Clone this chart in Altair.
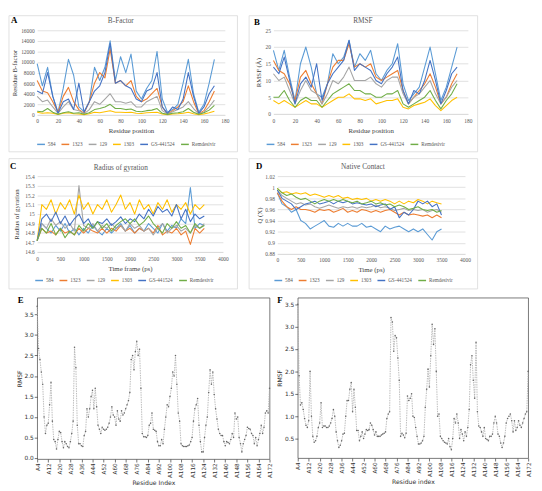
import altair as alt
import pandas as pd

SERIES = ["584", "1323", "129", "1303", "GS-441524", "Remdesivir"]
COLORS = ["#5B9BD5", "#ED7D31", "#A5A5A5", "#FFC000", "#4472C4", "#70AD47"]

# ---- Panel A : B-factor (residue 0..170 step 5)
RES_AB = list(range(0, 171, 5))
A_584 = [9700, 5500, 9000, 3500, 500, 5000, 10500, 7500, 1500, 600,
         2500, 9000, 6500, 9000, 14000, 6500, 11000, 8000, 11500, 4500,
         3000, 5000, 6500, 12000, 3000, 500, 1000, 2000, 6000, 10500,
         4000, 500, 2000, 6000, 10500]
A_1323 = [6500, 4500, 4200, 2500, 500, 3500, 5200, 2500, 1000, 300,
          2500, 6000, 8000, 7000, 12500, 6000, 6500, 5500, 6500, 3500,
          2500, 3000, 4000, 5000, 1500, 200, 800, 1500, 2500, 5500,
          2500, 200, 800, 2500, 4500]
A_129 = [3500, 2500, 2800, 1500, 300, 1500, 2500, 1000, 800, 200,
         1000, 2500, 2000, 3000, 4000, 2500, 2500, 2200, 2500, 1500,
         1500, 2500, 3000, 3500, 800, 200, 600, 1000, 1500, 2500,
         1200, 200, 500, 1500, 2800]
A_1303 = [500, 300, 400, 300, 100, 300, 400, 200, 150, 50,
          200, 500, 400, 600, 800, 500, 500, 450, 500, 300,
          250, 400, 450, 500, 150, 50, 150, 200, 300, 500,
          200, 50, 150, 400, 700]
A_GS = [4500, 4000, 8000, 3500, 300, 2500, 3000, 1000, 6000, 500,
        2500, 4500, 5500, 8000, 13500, 6000, 6500, 5500, 5000, 3000,
        2500, 4500, 5000, 8000, 1500, 300, 1500, 1000, 3000, 8000,
        3500, 300, 1500, 4000, 5500]
A_REM = [700, 600, 1200, 500, 100, 400, 600, 300, 400, 100,
         400, 1000, 1200, 1500, 2000, 1200, 1200, 1000, 1100, 700,
         600, 800, 900, 1200, 300, 100, 300, 400, 600, 1200,
         500, 100, 400, 900, 1800]

# ---- Panel B : RMSF (Å)
B_584 = [19, 13, 19, 11, 4, 15, 20, 14, 6, 5,
         9, 18, 15, 17, 22, 14, 18, 16, 19, 12,
         10, 13, 15, 21, 9, 4, 6, 8, 14, 20,
         12, 4, 8, 14, 20]
B_1323 = [16, 13, 12, 9, 4, 11, 13, 9, 6, 3,
          9, 14, 16, 16, 21, 14, 15, 14, 15, 11,
          10, 11, 12, 13, 7, 3, 5, 7, 9, 12,
          8, 3, 5, 9, 12]
B_129 = [12, 10, 11, 7, 3, 7, 10, 7, 6, 3,
         6, 10, 9, 11, 14, 10, 10, 10, 11, 9,
         8, 10, 11, 11, 6, 3, 5, 6, 8, 10,
         6, 3, 5, 8, 10]
B_1303 = [4, 3, 4, 3, 2, 3, 4, 3, 3, 2,
          3, 4, 5, 5, 6, 4.5, 4.5, 4, 4.5, 3,
          3.5, 4, 4, 4.5, 2, 1.5, 2.5, 3, 3.5, 4.5,
          2.5, 1, 2.5, 4, 5]
B_GS = [14, 12, 17, 10, 3, 9, 11, 8, 15, 4,
        9, 12, 14, 16, 22, 13, 15, 14, 13, 10,
        9, 12, 14, 17, 7, 3, 7, 6, 10, 16,
        10, 3, 7, 12, 14]
B_REM = [5, 5, 7, 4, 2, 4, 5, 4, 4, 2,
         4, 6, 7, 8, 9, 7, 7, 6, 6, 5,
         5, 6, 6, 7, 3, 2, 3, 4, 5, 7,
         4, 1.5, 4, 6, 9]

# ---- Panel C : Radius of gyration (0..3600 ps step 100)
TIME_C = list(range(0, 3601, 100))
C_584 = [14.72, 14.9, 14.85, 14.8, 14.88, 14.82, 14.9, 14.8, 14.85, 14.78,
         14.85, 14.8, 14.88, 14.82, 14.78, 14.85, 14.8, 14.85, 14.9, 14.82,
         14.88, 14.8, 14.85, 14.82, 14.9, 14.85, 14.8, 14.9, 14.82, 14.88,
         14.85, 14.95, 14.9, 15.28, 14.85, 14.9, 14.88]
C_1323 = [14.72, 14.85, 14.8, 14.82, 14.78, 14.85, 14.8, 14.82, 14.78, 14.85,
          14.8, 14.85, 14.82, 14.8, 14.85, 14.8, 14.85, 14.82, 14.88, 14.82,
          14.85, 14.8, 14.85, 14.82, 14.85, 14.8, 14.88, 14.78, 14.82, 14.8,
          14.85, 14.78, 14.82, 14.68, 14.85, 14.8, 14.85]
C_129 = [14.72, 14.9, 14.85, 14.95, 14.88, 14.92, 14.85, 14.9, 14.82, 15.3,
         14.88, 14.85, 14.9, 14.82, 14.88, 14.85, 14.9, 14.85, 14.88, 14.82,
         14.9, 14.85, 14.88, 14.82, 14.85, 14.78, 14.85, 14.9, 14.8, 14.85,
         14.88, 14.82, 14.85, 14.8, 14.88, 14.85, 14.9]
C_1303 = [14.72, 15.1, 15.05, 15.15, 15.0, 15.12, 15.05, 15.15, 15.0, 15.2,
          15.05, 15.12, 15.0, 15.1, 15.05, 15.15, 15.02, 15.1, 15.2, 15.05,
          15.12, 15.0, 15.15, 15.05, 15.1, 15.0, 15.12, 15.05, 15.15, 15.02,
          15.1, 15.05, 15.12, 15.0, 15.1, 15.05, 15.1]
C_GS = [14.72, 14.95, 15.0, 14.92, 15.02, 14.9, 14.98, 14.88, 14.95, 15.0,
        14.9, 14.95, 14.85, 14.92, 14.9, 14.95, 14.88, 14.92, 14.97, 14.9,
        14.95, 14.92, 15.0, 14.95, 15.05, 14.98, 15.08, 15.02, 15.05, 14.98,
        15.1, 14.95, 15.05, 14.92, 15.0, 14.95, 14.98]
C_REM = [14.72, 14.85, 14.8, 14.9, 14.78, 14.85, 14.75, 14.82, 14.78, 14.88,
         14.82, 14.9, 14.85, 14.92, 14.85, 14.9, 14.82, 14.88, 14.92, 14.95,
         14.9, 14.95, 14.88, 14.92, 14.98, 14.9, 14.85, 14.8, 14.9, 14.85,
         14.92, 14.85, 14.88, 14.8, 14.9, 14.85, 14.88]

# ---- Panel D : Native contact (0..3500 ps step 100)
TIME_D = list(range(0, 3501, 100))
D_584 = [0.99, 0.97, 0.965, 0.955, 0.96, 0.94, 0.935, 0.925, 0.93, 0.935,
         0.94, 0.93, 0.928, 0.935, 0.93, 0.935, 0.93, 0.93, 0.935, 0.928,
         0.93, 0.925, 0.92, 0.93, 0.925, 0.928, 0.93, 0.925, 0.92, 0.925,
         0.92, 0.925, 0.915, 0.905, 0.92, 0.925]
D_1323 = [0.99, 0.975, 0.965, 0.96, 0.965, 0.96, 0.96, 0.958, 0.955, 0.96,
          0.958, 0.96, 0.955, 0.958, 0.962, 0.955, 0.958, 0.955, 0.96, 0.958,
          0.955, 0.958, 0.955, 0.958, 0.96, 0.955, 0.95, 0.955, 0.95, 0.952,
          0.95, 0.948, 0.95, 0.945, 0.95, 0.945]
D_129 = [0.995, 0.985, 0.98, 0.975, 0.97, 0.972, 0.968, 0.97, 0.965, 0.962,
         0.965, 0.968, 0.965, 0.962, 0.965, 0.963, 0.965, 0.962, 0.965, 0.963,
         0.965, 0.968, 0.963, 0.965, 0.962, 0.958, 0.96, 0.962, 0.958, 0.96,
         0.958, 0.96, 0.955, 0.958, 0.96, 0.955]
D_1303 = [0.998, 0.99, 0.992, 0.988, 0.99, 0.988, 0.99, 0.985, 0.988, 0.985,
          0.982, 0.985, 0.982, 0.985, 0.98, 0.982, 0.978, 0.98, 0.978, 0.98,
          0.975, 0.978, 0.975, 0.978, 0.975, 0.97, 0.975, 0.97, 0.975, 0.972,
          0.978, 0.975, 0.97, 0.975, 0.972, 0.97]
D_GS = [0.995, 0.98, 0.975, 0.97, 0.96, 0.965, 0.97, 0.972, 0.975, 0.97,
        0.972, 0.975, 0.97, 0.975, 0.972, 0.975, 0.97, 0.972, 0.97, 0.968,
        0.97, 0.965, 0.968, 0.97, 0.96, 0.965, 0.945, 0.955, 0.95, 0.96,
        0.975, 0.97, 0.975, 0.965, 0.97, 0.95]
D_REM = [0.998, 0.99, 0.985, 0.988, 0.982, 0.978, 0.98, 0.975, 0.97, 0.975,
         0.978, 0.975, 0.978, 0.975, 0.978, 0.975, 0.972, 0.975, 0.97, 0.972,
         0.975, 0.97, 0.972, 0.968, 0.97, 0.965, 0.968, 0.965, 0.96, 0.962,
         0.965, 0.96, 0.958, 0.96, 0.955, 0.958]

# ---- Panels E / F : per-residue RMSF (A4..A172)
RES_EF = list(range(4, 173))
E_RMSF = [3.70, 2.67, 2.40, 2.10, 1.80, 1.00, 0.60, 0.80, 0.85, 1.30,
          1.85, 0.90, 0.45, 0.40, 0.22, 0.45, 0.65, 0.62, 0.40, 0.25,
          0.40, 0.35, 0.28, 0.25, 0.40, 0.60, 0.90, 2.70, 2.20, 0.80,
          0.35, 0.35, 0.30, 0.28, 0.55, 0.65, 1.20, 1.00, 1.20, 1.50,
          1.65, 1.20, 1.70, 1.25, 0.80, 0.70, 0.60, 0.75, 0.70, 0.68,
          0.70, 0.75, 0.85, 1.00, 1.25, 1.05, 1.00, 0.80, 1.15, 0.95,
          0.90, 1.15, 1.05, 1.10, 1.20, 1.30, 1.40, 1.60, 2.40, 2.50,
          2.15, 2.60, 2.85, 2.50, 2.65, 1.70, 0.60, 0.52, 0.52, 0.50,
          0.55, 0.80, 0.85, 1.10, 0.70, 0.68, 0.65, 0.40, 0.30, 0.30,
          0.45, 0.35, 0.70, 1.00, 1.30, 1.25, 1.50, 1.70, 2.10, 2.00,
          2.50, 1.80, 1.10, 0.90, 0.35, 0.30, 0.28, 0.28, 0.28, 0.30,
          0.32, 0.40, 0.50, 0.90, 1.20, 1.30, 1.45, 0.80, 0.40, 0.15,
          0.15, 0.50, 0.80, 1.00, 1.60, 2.15, 1.80, 2.10, 1.55, 1.20,
          0.95, 0.70, 0.60, 0.55, 0.55, 0.40, 0.30, 0.40, 0.38, 0.35,
          0.45, 0.60, 0.50, 1.10, 0.95, 1.00, 0.50, 0.35, 0.15, 0.35,
          0.45, 0.55, 0.75, 0.72, 0.70, 0.60, 0.55, 0.35, 0.50, 0.30,
          0.45, 0.60, 0.80, 0.60, 0.75, 1.10, 1.15, 1.10, 1.70]
F_RMSF = [3.50, 1.90, 1.25, 1.30, 1.15, 0.95, 0.80, 0.75, 0.90, 2.00,
          1.00, 0.55, 0.42, 0.45, 0.55, 0.75, 0.85, 1.30, 0.75, 0.78,
          0.78, 0.75, 0.75, 0.78, 0.85, 0.95, 1.15, 1.00, 0.65, 0.45,
          0.30, 0.35, 0.45, 0.60, 0.62, 1.00, 1.35, 1.35, 1.60, 1.75,
          1.10, 1.60, 1.20, 0.68, 0.68, 0.45, 0.55, 0.65, 0.50, 0.60,
          0.70, 0.68, 0.70, 0.85, 0.80, 0.70, 0.58, 0.65, 0.55, 0.55,
          0.55, 0.58, 0.60, 0.62, 0.65, 0.95, 1.05, 1.10, 3.20, 3.10,
          2.45, 2.80, 2.75, 2.30, 1.80, 0.55, 0.62, 0.58, 0.52, 0.62,
          1.45, 1.35, 1.40, 1.50, 1.00, 0.97, 0.75, 0.55, 0.38, 0.38,
          0.40, 0.45, 0.55, 1.20, 1.60, 2.05, 1.65, 2.35, 3.05, 2.60,
          2.95, 2.00, 1.00, 1.05, 0.55, 0.50, 0.45, 0.42, 0.40, 0.38,
          0.50, 0.32, 0.25, 0.50, 0.95, 0.85, 1.05, 0.85, 0.50, 0.70,
          0.60, 0.45, 0.65, 0.55, 0.75, 1.15, 2.15, 2.35, 1.80, 1.40,
          2.65, 1.10, 0.78, 0.75, 0.65, 0.55, 0.75, 0.50, 0.48, 0.45,
          0.55, 0.55, 0.60, 0.85, 1.00, 0.85, 0.60, 0.55, 0.40, 0.30,
          0.40, 0.55, 0.85, 0.95, 1.00, 1.05, 0.90, 0.65, 0.90, 0.68,
          0.75, 0.90, 0.80, 0.75, 0.85, 0.95, 1.05, 1.10, 2.00]

SERIF = "Liberation Serif"
SANS = "DejaVu Sans"
ONE = pd.DataFrame({"k": [0]})


def long_df(xs, lists):
    rows = []
    for name, vals in zip(SERIES, lists):
        assert len(vals) == len(xs), (name, len(vals), len(xs))
        for x, v in zip(xs, vals):
            rows.append({"x": x, "v": v, "s": name})
    return pd.DataFrame(rows)


def txt(text, x, y, size, color, weight="normal", align="left", baseline="top", font=SERIF):
    return alt.Chart(ONE).mark_text(
        text=text, font=font, fontSize=size, fontWeight=weight, color=color,
        align=align, baseline=baseline
    ).encode(x=alt.value(x), y=alt.value(y))


def excel_panel(df, w, h, frame, letter, letter_xy, title, title_xy,
                xdom, xvals, xtitle, xlpad, xtpad,
                ydom, yvals, yfmt, ytitle, ytpad, legend_xy):
    fx1, fy1, fx2, fy2 = frame
    box = alt.Chart(ONE).mark_rect(
        fill="transparent", stroke="#D9D9D9", strokeWidth=0.8
    ).encode(x=alt.value(fx1), x2=alt.value(fx2), y=alt.value(fy1), y2=alt.value(fy2))
    lines = alt.Chart(df).mark_line(strokeWidth=1.1, strokeJoin="round").encode(
        x=alt.X("x:Q", scale=alt.Scale(domain=xdom, nice=False, zero=False),
                axis=alt.Axis(values=xvals, format="d", grid=False, ticks=False,
                              domain=True, domainColor="#D9D9D9", domainWidth=0.8,
                              labelFont=SERIF, labelFontSize=5.6, labelColor="#595959",
                              labelPadding=xlpad, labelFlush=False, labelOverlap=False,
                              title=xtitle, titleFont=SERIF, titleFontSize=7,
                              titleFontWeight="normal", titleColor="#404040",
                              titlePadding=xtpad)),
        y=alt.Y("v:Q", scale=alt.Scale(domain=ydom, nice=False, zero=False),
                axis=alt.Axis(values=yvals, format=yfmt, grid=True, gridColor="#D9D9D9",
                              gridWidth=0.8, ticks=False, domain=False,
                              labelFont=SERIF, labelFontSize=5.6, labelColor="#595959",
                              labelPadding=3, labelFlush=False, labelOverlap=False,
                              title=ytitle, titleFont=SERIF, titleFontSize=7,
                              titleFontWeight="normal", titleColor="#404040",
                              titlePadding=ytpad)),
        color=alt.Color("s:N", scale=alt.Scale(domain=SERIES, range=COLORS),
                        legend=alt.Legend(orient="none", legendX=legend_xy[0],
                                          legendY=legend_xy[1], direction="horizontal",
                                          columns=6, symbolType="stroke", symbolSize=64,
                                          symbolStrokeWidth=1.5, labelFont=SERIF,
                                          labelFontSize=5.3, labelColor="#595959",
                                          labelOffset=2, columnPadding=3, padding=0,
                                          title=None)),
    )
    let = txt(letter, letter_xy[0], letter_xy[1], 9, "black", weight="bold")
    ttl = txt(title, title_xy[0], title_xy[1], 7.5, "#595959", align="center", baseline="middle")
    return alt.layer(box, lines, let, ttl).properties(width=w, height=h)


def md_panel(vals, w, h, ydom, yvals, letter, box_rect, letter_xy, xtitle):
    df = pd.DataFrame({"r": RES_EF, "v": vals})
    fx1, fy1, fx2, fy2 = box_rect
    box = alt.Chart(ONE).mark_rect(fill="transparent").encode(
        x=alt.value(fx1), x2=alt.value(fx2), y=alt.value(fy1), y2=alt.value(fy2))
    base = alt.Chart(df).encode(
        x=alt.X("r:Q", scale=alt.Scale(domain=[4, 172], nice=False, zero=False),
                axis=alt.Axis(values=list(range(4, 173, 8)), labelExpr="'A' + datum.value",
                              labelAngle=270, labelFont=SANS, labelFontSize=5.8,
                              labelColor="#333333", tickColor="#333333", tickSize=3,
                              tickWidth=0.7, labelPadding=1, domain=False, grid=False,
                              labelFlush=False, labelOverlap=False,
                              title=xtitle, titleFont=SANS, titleFontSize=6.3,
                              titleFontWeight="normal", titleColor="#333333", titlePadding=2)),
        y=alt.Y("v:Q", scale=alt.Scale(domain=ydom, nice=False, zero=False),
                axis=alt.Axis(values=yvals, format=".1f", labelFont=SANS, labelFontSize=6,
                              labelColor="#333333", tickColor="#333333", tickSize=3,
                              tickWidth=0.7, labelPadding=1, domain=False, grid=False,
                              labelFlush=False, labelOverlap=False,
                              title="RMSF", titleFont=SANS, titleFontSize=6.3,
                              titleFontWeight="normal", titleColor="#333333", titlePadding=2)),
    )
    line = base.mark_line(color="#aaaaaa", strokeWidth=0.8, strokeDash=[1.5, 1])
    pts = base.mark_circle(size=2.5, color="#666666", opacity=1)
    let = txt(letter, letter_xy[0], letter_xy[1], 9, "black", weight="bold")
    return alt.layer(box, line, pts, let).properties(
        width=w, height=h, view=alt.ViewBackground(stroke="#555555", strokeWidth=0.8))


pA = excel_panel(long_df(RES_AB, [A_584, A_1323, A_129, A_1303, A_GS, A_REM]),
                 193, 87, (-29, -15, 206, 125), "A", (-27, -14), "B-Factor", (86, -10),
                 [0, 180], list(range(0, 181, 20)), "Residue position", 4, 3,
                 [0, 16000], list(range(0, 16001, 2000)), "d", "Residue B-factor", 3.5,
                 (-1, 112))
pB = excel_panel(long_df(RES_AB, [B_584, B_1323, B_129, B_1303, B_GS, B_REM]),
                 200, 86, (-25, -15, 210, 125), "B", (-20, -12), "RMSF", (92, -10),
                 [0, 180], list(range(0, 181, 20)), "Residue position", 5, 3,
                 [0, 25], list(range(0, 26, 5)), "d", "RMSF (Å)", 4,
                 (-8, 112))
pC = excel_panel(long_df(TIME_C, [C_584, C_1323, C_129, C_1303, C_GS, C_REM]),
                 191, 78, (-29, -18, 206, 116), "C", (-28, -14), "Radius of gyration", (86, -8),
                 [0, 4000], list(range(0, 4001, 500)), "Time frame (ps)", 5, 2,
                 [14.6, 15.4], [14.6, 14.7, 14.8, 14.9, 15.0, 15.1, 15.2, 15.3, 15.4],
                 ".1~f", "Radius of gyration", 5, (-3, 102))
pD = excel_panel(long_df(TIME_D, [D_584, D_1323, D_129, D_1303, D_GS, D_REM]),
                 193, 80, (-29, -18, 206, 116), "D", (-22, -14), "Native Contact", (88, -9),
                 [0, 4000], list(range(0, 4001, 500)), "Time (ps)", 4, 3,
                 [0.88, 1.02], [0.88, 0.9, 0.92, 0.94, 0.96, 0.98, 1.0, 1.02],
                 ".2~f", "Q (X)", 2.5, (-4, 102))
pE = md_panel(E_RMSF, 239, 166, [-0.025, 3.91], [0, 0.5, 1.0, 1.5, 2.0, 2.5, 3.0, 3.5],
              "E", (-22, -2, 242, 194), (-20, -2), "Residue Index")
pF = md_panel(F_RMSF, 237, 165, [0.065, 3.645], [0.5, 1.0, 1.5, 2.0, 2.5, 3.0, 3.5],
              "F", (-21, -2, 242, 194), (-21, -2), "Residue index")


def hrow(a, b, sp):
    return alt.hconcat(a, b, spacing=sp).resolve_scale(
        color="independent").resolve_legend(color="independent")


chart = alt.vconcat(
    hrow(pA, pB, 10), hrow(pC, pD, 10), hrow(pE, pF, 3), spacing=5
).resolve_scale(color="independent").resolve_legend(color="independent").properties(
    padding=0
).configure_view(stroke="transparent")

chart.save("out.html", embed_options={"renderer": "svg", "actions": False})
